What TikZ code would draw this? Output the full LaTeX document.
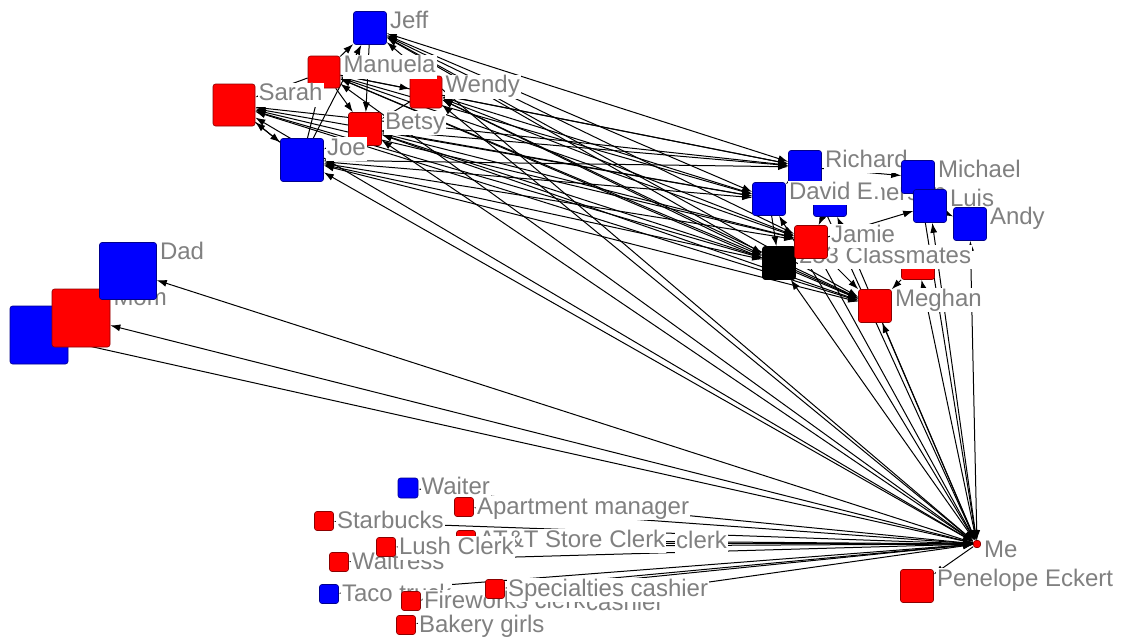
\documentclass[tikz,border=0pt]{standalone}
\usepackage{fontspec}
\setmainfont{Liberation Sans}
\usetikzlibrary{arrows.meta}
\pgfdeclarelayer{edges}
\pgfsetlayers{edges,main}
\tikzset{
  sq/.style 2 args={draw=#1!55!black, fill=#1, rounded corners=2.5pt, minimum size=#2, inner sep=0pt, line width=0.6pt},
  lbl/.style={anchor=north west, fill=white, inner sep=1pt, text=gray, font=\fontsize{24}{24}\selectfont, text height=17pt, text depth=5pt, xshift=2pt, yshift=1pt},
  tie/.style={-{Latex[length=10pt,width=7pt]}, line width=1pt},
  mutual/.style={{Latex[length=10pt,width=7pt]}-{Latex[length=10pt,width=7pt]}, line width=1pt}
}

\begin{document}
\begin{tikzpicture}[x=1pt,y=-1pt]
  \useasboundingbox (0,0) rectangle (1128,637);
  % family
  \node[sq={blue}{58pt}] (bro) at (39,335) {};
  \node[sq={red}{58pt}, label={[lbl]north east:Mom}] (mom) at (81,318) {};
  \node[sq={blue}{57pt}, label={[lbl]north east:Dad}] (dad) at (128,271) {};
  % friends
  \node[sq={blue}{33pt}, label={[lbl]north east:Jeff}] (jeff) at (370,28) {};
  \node[sq={red}{32pt}, label={[lbl]north east:Wendy}] (wendy) at (426,92) {};
  \node[sq={red}{32pt}, label={[lbl]north east:Manuela}] (manuela) at (324,72) {};
  \node[sq={red}{42pt}, label={[lbl]north east:Sarah}] (sarah) at (234,105) {};
  \node[sq={red}{33pt}, label={[lbl]north east:Betsy}] (betsy) at (365,129) {};
  \node[sq={blue}{43pt}, label={[lbl]north east:Joe}] (joe) at (302,160) {};
  % school
  \node[sq={blue}{33pt}, label={[lbl]north east:Richard}] (richard) at (805,167) {};
  \node[sq={blue}{33pt}, label={[lbl]north east:Emerson}] (emerson) at (830,200) {};
  \node[sq={blue}{33pt}, label={[lbl]north east:David E.}] (david) at (769,199) {};
  \node[sq={blue}{33pt}, label={[lbl]north east:Michael}] (michael) at (918,177) {};
  \node[sq={blue}{33pt}, label={[lbl]north east:Luis}] (luis) at (930,206) {};
  \node[sq={blue}{33pt}, label={[lbl]north east:Andy}] (andy) at (970,224) {};
  \node[sq={red}{33pt}] (hid) at (918,263) {};
  \node[sq={black}{33pt}, label={[lbl]north east:253 Classmates}] (classm) at (779,263) {};
  \node[sq={red}{33pt}, label={[lbl]north east:Jamie}] (jamie) at (811,242) {};
  \node[sq={red}{33pt}, label={[lbl]north east:Meghan}] (meghan) at (875,306) {};
  % service people
  \node[sq={blue}{20pt}, label={[lbl]north east:Waiter}] (waiter) at (408,488) {};
  \node[sq={red}{19pt}, label={[lbl]north east:Starbucks}] (starb) at (324,521) {};
  \node[sq={red}{19pt}, label={[lbl]north east:Apartment manager}] (aptmgr) at (464,507) {};
  \node[sq={red}{19pt}] (grocery) at (538,543) {};
  \node[lbl] (clerktxt) at (673,531) {clerk};
  \node[sq={red}{19pt}, label={[lbl]north east:AT\&T Store Clerk}] (att) at (466,540) {};
  \node[sq={red}{19pt}, label={[lbl]north east:Waitress}] (waitress) at (339,562) {};
  \node[sq={red}{19pt}, label={[lbl]north east:Lush Clerk}] (lush) at (386,547) {};
  \node[sq={blue}{19pt}, label={[lbl]north east:Taco truck}] (taco) at (329,594) {};
  \node[sq={red}{19pt}, label={[lbl]north east:Fireworks clerk}] (firew) at (411,601) {};
  \node[lbl] (cashtxt) at (583,593) {cashier};
  \node[sq={red}{19pt}, label={[lbl]north east:Specialties cashier}] (special) at (495,589) {};
  \node[sq={red}{19pt}, label={[lbl]north east:Bakery girls}] (bakery) at (406,625) {};
  % ego
  \node[sq={red}{7pt}, label={[lbl]north east:Me}] (me) at (977,544) {};
  \node[sq={red}{33pt}, label={[lbl]north east:Penelope Eckert}] (pen) at (917,586) {};

  \begin{pgfonlayer}{edges}
  \fill[white] (0,0) rectangle (1128,637);
  \foreach \t in {mom,dad,bro,pen} \draw[tie] (me) -- (\t);
  \foreach \t in {jeff,manuela,sarah,wendy,betsy,joe,richard,david,emerson,michael,luis,andy,jamie,classm,hid,meghan}
    \draw[mutual] (me) -- (\t);
  \foreach \t in {waiter,starb,aptmgr,att,grocery,waitress,lush,taco,firew,special,bakery}
    \draw[mutual] (me) -- (\t);
  % friends and school
  \foreach \a in {jeff,manuela,wendy,betsy,joe,sarah}
    \foreach \b in {richard,david,classm,meghan,jamie}
      \draw[mutual] (\a) -- (\b);
  \path[tie]
    (manuela) edge (jeff) edge (wendy) edge (betsy) edge (sarah)
    (joe) edge (jeff) edge (manuela) edge (sarah)
    (sarah) edge (joe)
    (betsy) edge (joe)
    (jeff) edge (betsy)
    (wendy) edge (betsy)
    (richard) edge (michael) edge (david)
    (david) edge (classm)
    (emerson) edge (jamie)
    (jamie) edge (luis) edge (meghan)
    (classm) edge (meghan)
    (hid) edge (meghan);
  \path[mutual] (luis) edge (andy);
  \end{pgfonlayer}
\end{tikzpicture}
\end{document}
